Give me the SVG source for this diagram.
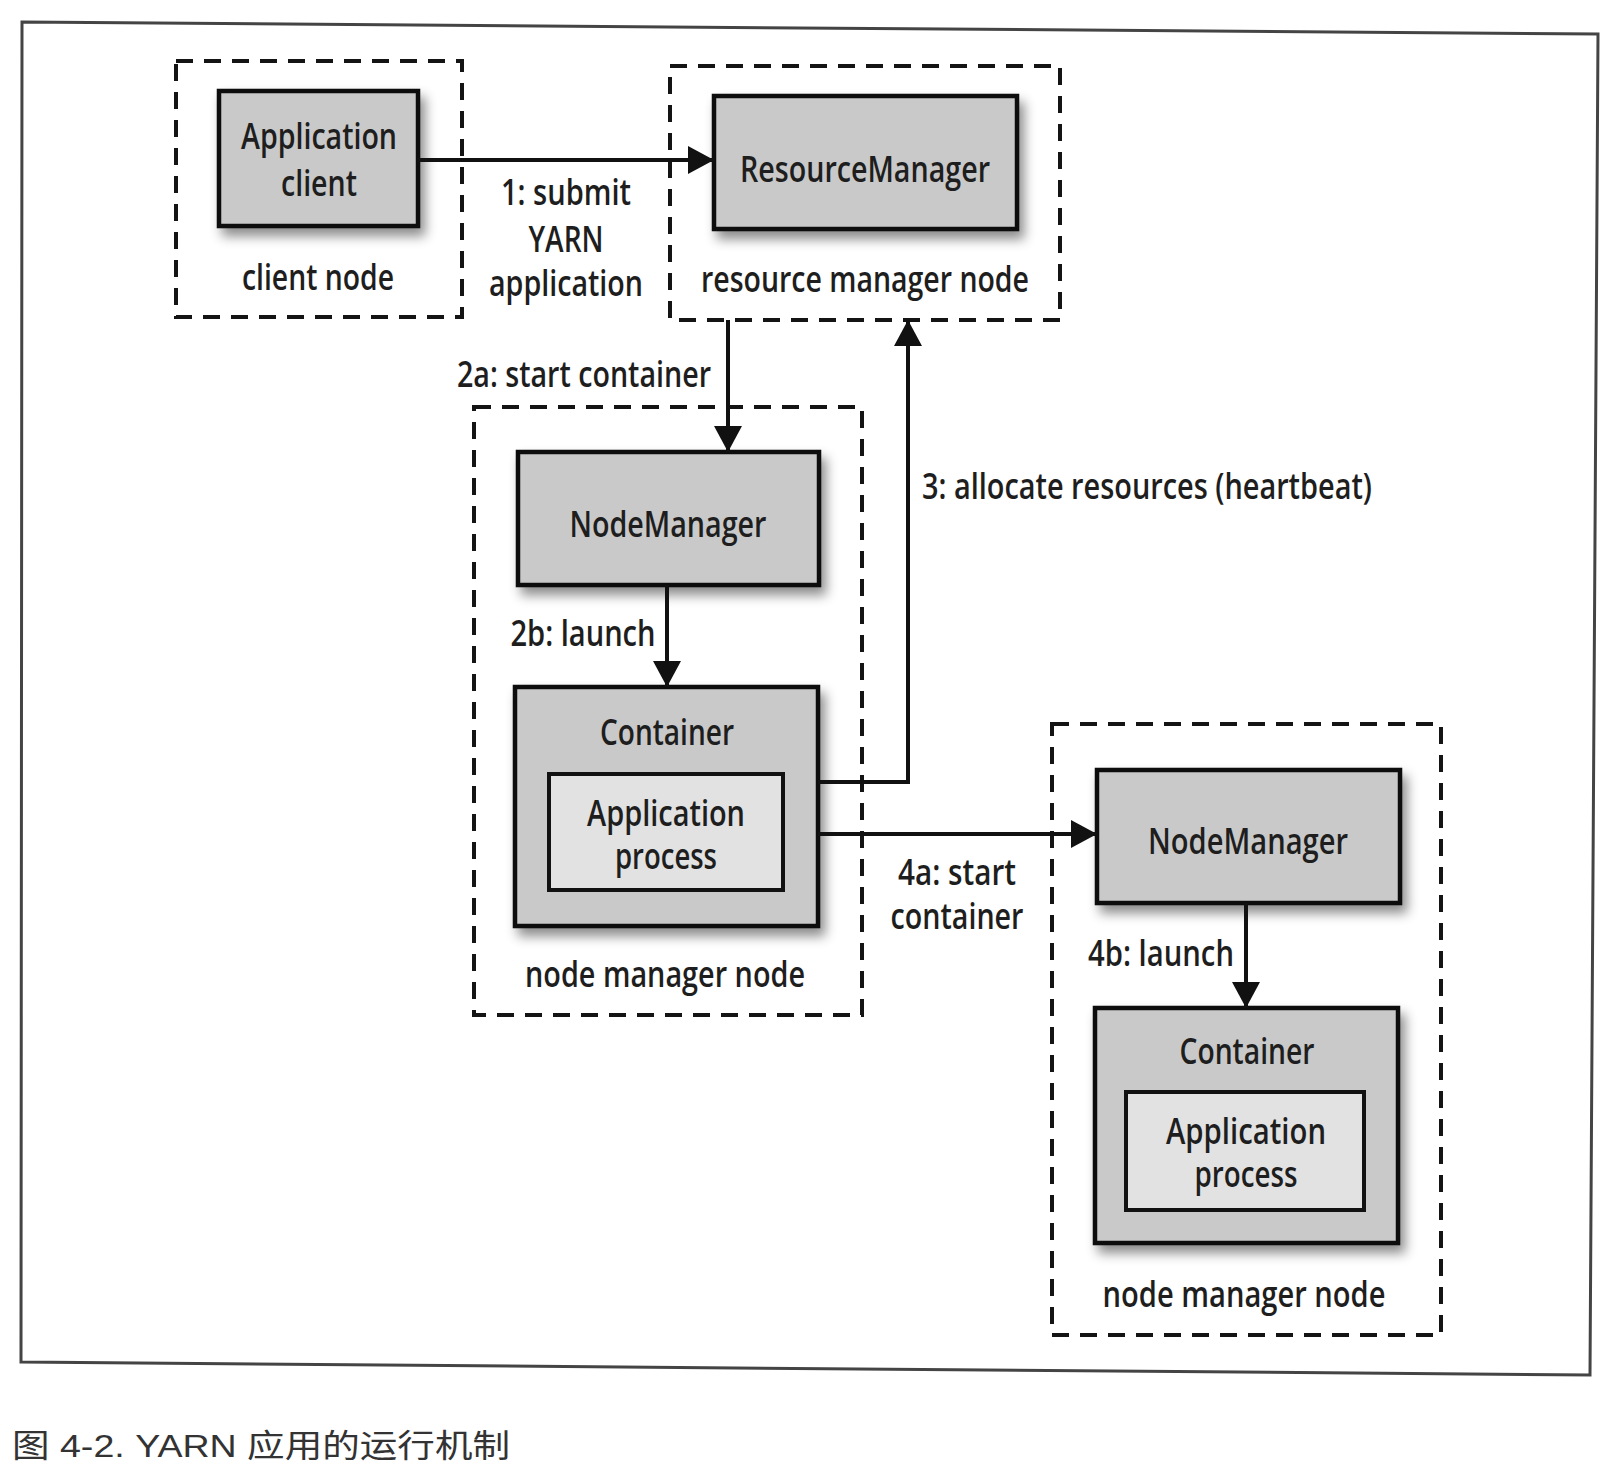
<svg xmlns="http://www.w3.org/2000/svg" width="1604" height="1476" viewBox="0 0 1604 1476">
  <style>
    .t { font-family: "Open Sans", "Liberation Sans", sans-serif; font-size: 36px; font-weight: 600; fill: #1e1e1e; text-anchor: middle; }
    .tl { text-anchor: start; }
    .dash { fill: none; stroke: #141414; stroke-width: 4; stroke-dasharray: 17 11; }
    .box { fill: #c9c9c9; stroke: #111; stroke-width: 4.5; filter: url(#shadow); }
    .inner { fill: #e2e2e2; stroke: #111; stroke-width: 4; }
    .conn { fill: none; stroke: #111; stroke-width: 4; }
    .cap { font-family: "Liberation Sans", "Noto Sans CJK SC", sans-serif; font-size: 32px; fill: #333; }
  </style>
  <defs>
    <filter id="shadow" x="-10%" y="-10%" width="130%" height="140%">
      <feDropShadow dx="5" dy="8" stdDeviation="6" flood-color="#000" flood-opacity="0.45"/>
    </filter>
    <marker id="arr" viewBox="0 0 26 28" refX="26" refY="14" markerWidth="26" markerHeight="28" markerUnits="userSpaceOnUse" orient="auto">
      <path d="M0,0 L26,14 L0,28 Z" fill="#111"/>
    </marker>
  </defs>
  <rect width="1604" height="1476" fill="#fff"/>
  <path d="M22,22 L1598,34 L1590,1375 L21,1362 Z" fill="none" stroke="#444" stroke-width="3"/>

  <g id="client-node">
    <rect class="dash" x="176" y="61" width="286" height="256"/>
    <rect class="box" x="219" y="91" width="199" height="135"/>
    <text class="t" x="319" y="149" textLength="156" lengthAdjust="spacingAndGlyphs">Application</text>
    <text class="t" x="319" y="196" textLength="76" lengthAdjust="spacingAndGlyphs">client</text>
    <text class="t" x="318" y="290" textLength="152" lengthAdjust="spacingAndGlyphs">client node</text>
  </g>

  <g id="resource-manager-node">
    <rect class="dash" x="670" y="66" width="390" height="254"/>
    <rect class="box" x="714" y="96" width="303" height="133"/>
    <text class="t" x="865" y="182" textLength="250" lengthAdjust="spacingAndGlyphs">ResourceManager</text>
    <text class="t" x="865" y="292" textLength="328" lengthAdjust="spacingAndGlyphs">resource manager node</text>
  </g>

  <g id="node-manager-node-1">
    <rect class="dash" x="474" y="407" width="388" height="608"/>
    <rect class="box" x="518" y="452" width="301" height="133"/>
    <text class="t" x="668" y="537" textLength="197" lengthAdjust="spacingAndGlyphs">NodeManager</text>
    <rect class="box" x="515" y="687" width="303" height="239"/>
    <text class="t" x="667" y="745" textLength="134" lengthAdjust="spacingAndGlyphs">Container</text>
    <rect class="inner" x="549" y="774" width="234" height="116"/>
    <text class="t" x="666" y="826" textLength="158" lengthAdjust="spacingAndGlyphs">Application</text>
    <text class="t" x="666" y="869" textLength="102" lengthAdjust="spacingAndGlyphs">process</text>
    <text class="t" x="665" y="987" textLength="280" lengthAdjust="spacingAndGlyphs">node manager node</text>
  </g>

  <g id="node-manager-node-2">
    <rect class="dash" x="1052" y="724" width="389" height="611"/>
    <rect class="box" x="1097" y="770" width="303" height="133"/>
    <text class="t" x="1248" y="854" textLength="200" lengthAdjust="spacingAndGlyphs">NodeManager</text>
    <rect class="box" x="1095" y="1008" width="303" height="235"/>
    <text class="t" x="1247" y="1064" textLength="135" lengthAdjust="spacingAndGlyphs">Container</text>
    <rect class="inner" x="1126" y="1092" width="238" height="118"/>
    <text class="t" x="1246" y="1144" textLength="160" lengthAdjust="spacingAndGlyphs">Application</text>
    <text class="t" x="1246" y="1187" textLength="103" lengthAdjust="spacingAndGlyphs">process</text>
    <text class="t" x="1244" y="1307" textLength="283" lengthAdjust="spacingAndGlyphs">node manager node</text>
  </g>

  <g id="connectors">
    <path class="conn" d="M418,160 L714,160" marker-end="url(#arr)"/>
    <path class="conn" d="M728,320 L728,452" marker-end="url(#arr)"/>
    <path class="conn" d="M667,585 L667,687" marker-end="url(#arr)"/>
    <path class="conn" d="M818,782 L908,782 L908,320" marker-end="url(#arr)"/>
    <path class="conn" d="M818,834 L1097,834" marker-end="url(#arr)"/>
    <path class="conn" d="M1246,903 L1246,1008" marker-end="url(#arr)"/>
    <text class="t" x="566" y="205" textLength="130" lengthAdjust="spacingAndGlyphs">1: submit</text>
    <text class="t" x="566" y="252" textLength="75" lengthAdjust="spacingAndGlyphs">YARN</text>
    <text class="t" x="566" y="296" textLength="154" lengthAdjust="spacingAndGlyphs">application</text>
    <text class="t" x="584" y="387" textLength="254" lengthAdjust="spacingAndGlyphs">2a: start container</text>
    <text class="t" x="583" y="646" textLength="145" lengthAdjust="spacingAndGlyphs">2b: launch</text>
    <text class="t tl" x="922" y="499" textLength="450" lengthAdjust="spacingAndGlyphs">3: allocate resources (heartbeat)</text>
    <text class="t" x="957" y="885" textLength="118" lengthAdjust="spacingAndGlyphs">4a: start</text>
    <text class="t" x="957" y="929" textLength="133" lengthAdjust="spacingAndGlyphs">container</text>
    <text class="t" x="1161" y="966" textLength="146" lengthAdjust="spacingAndGlyphs">4b: launch</text>
  </g>

  <text class="cap" x="12" y="1457" textLength="498" lengthAdjust="spacingAndGlyphs">图 4-2. YARN 应用的运行机制</text>
</svg>
